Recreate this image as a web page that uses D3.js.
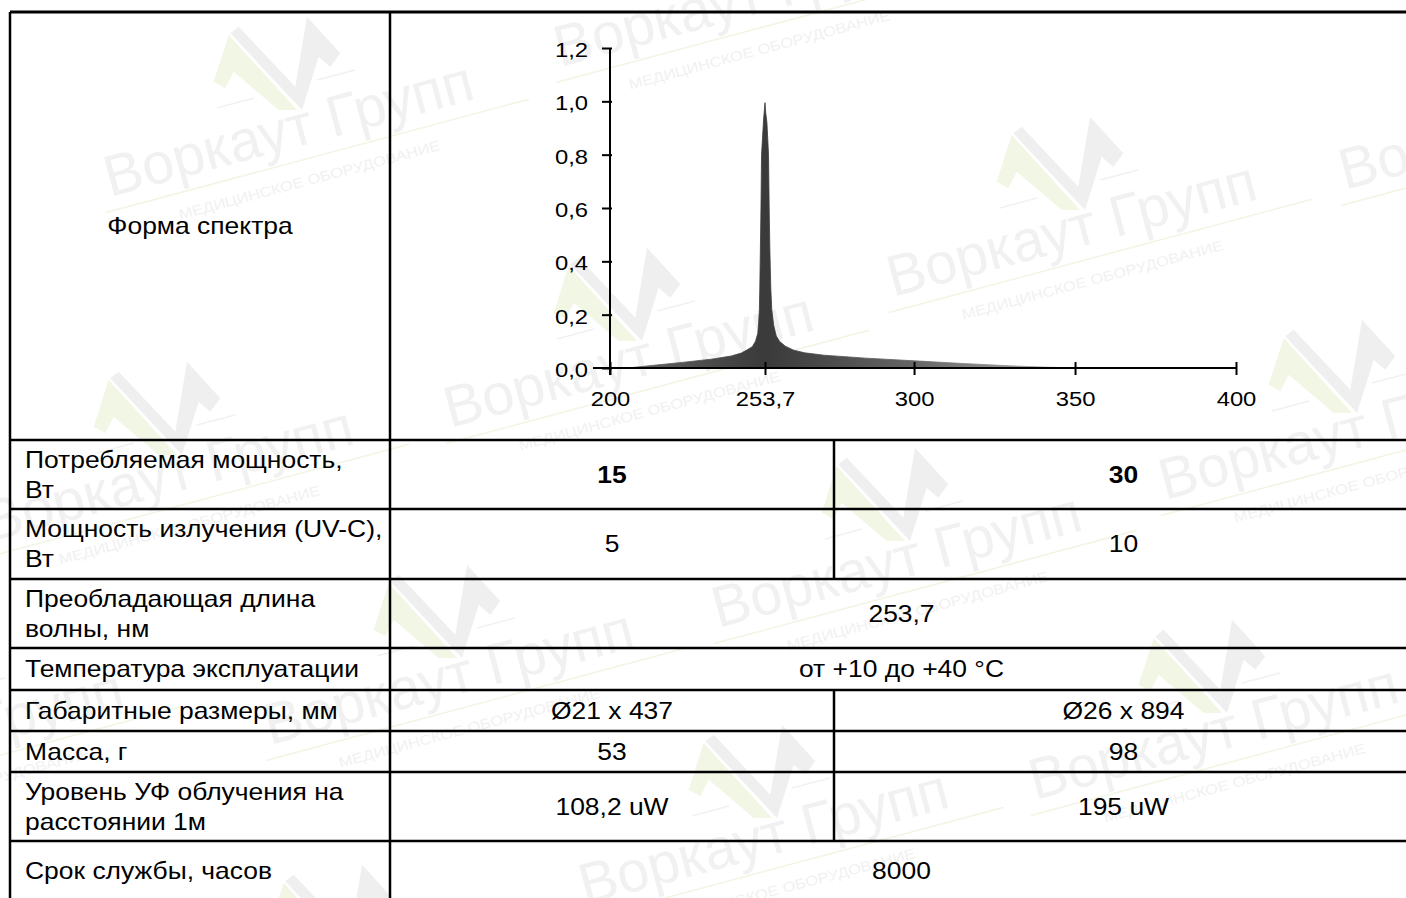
<!DOCTYPE html>
<html>
<head>
<meta charset="utf-8">
<script src="https://cdn.jsdelivr.net/npm/d3@7"></script>
<style>
  html, body { margin: 0; padding: 0; background: #fff; overflow: hidden; }
  svg { display: block; font-family: Arial, "Liberation Sans", sans-serif; }
</style>
</head>
<body>
<div id="chart"></div>
<script>
// spectrum (relative intensity vs wavelength, nm)
const wavelengths = [206, 215, 225, 235, 242, 245.5, 247.5, 249.3, 250.4, 251.2, 251.5, 251.75, 251.9, 252.1, 252.3, 252.5,
  253.2, 253.5, 253.7, 253.9, 254.3, 254.8, 255.0, 255.2, 255.5, 255.8, 256.4, 257.2, 258.2, 260, 262.6, 266, 272,
  285, 300, 315, 330, 342, 350];
const intensities = [0, 0.010, 0.021, 0.033, 0.045, 0.056, 0.068, 0.08, 0.1, 0.13, 0.17, 0.22, 0.3, 0.45, 0.6, 0.8,
  0.93, 0.97, 0.995, 0.96, 0.92, 0.8, 0.6, 0.45, 0.3, 0.22, 0.16, 0.12, 0.1, 0.082, 0.067, 0.057, 0.048,
  0.037, 0.027, 0.017, 0.008, 0.003, 0];
const xTicks = [200, 253.7, 300, 350, 400];
const yTicks = [0, 0.2, 0.4, 0.6, 0.8, 1.0, 1.2];

// table
const rowLabels = [
  ["Форма спектра"],
  ["Потребляемая мощность,", "Вт"],
  ["Мощность излучения (UV-C),", "Вт"],
  ["Преобладающая длина", "волны, нм"],
  ["Температура эксплуатации"],
  ["Габаритные размеры, мм"],
  ["Масса, г"],
  ["Уровень УФ облучения на", "расстоянии 1м"],
  ["Срок службы, часов"]
];
const lamp15 = [null, "15", "5", "253,7", "от +10 до +40 °C", "Ø21 x 437", "53", "108,2 uW", "8000"];
const lamp30 = [null, "30", "10", null, null, "Ø26 x 894", "98", "195 uW", null];
const boldRows = [1];

const W = 1406, H = 898;
const colX = [10, 390, 834, 1413];
const rowY = [12, 440, 509, 579, 648, 690, 731, 772, 841, 901];
const TX = 1.15; // text in the source is a bit wider than plain Arial

const svg = d3.select("#chart").append("svg")
  .attr("width", W).attr("height", H);
svg.append("rect").attr("width", W).attr("height", H).attr("fill", "#fff");

// watermark tiles
const marks = [[110, 197], [560, 67], [893, 297], [1345, 190], [450, 428], [-10, 542], [718, 628],
  [1165, 500], [270, 745], [1035, 800], [585, 905], [165, 1045], [-240, 805]];
const logoGreen = [[103.7, -115.3], [118.7, -162], [187, -87], [168.7, -87], [123.7, -125.3], [115.3, -108.7]];
const logoGray = [[120.3, -163.7], [128.7, -170.3], [185.3, -110.3], [197, -180.3], [230.3, -143.7],
  [220.3, -130.3], [208.7, -140.3], [192, -87]];

const wm = svg.append("g").selectAll("g").data(marks).join("g")
  .attr("transform", d => `translate(${d[0]},${d[1]})`);
wm.append("polygon").attr("points", logoGray.join(" ")).attr("fill", "#efefef");
wm.append("polygon").attr("points", logoGreen.join(" ")).attr("fill", "#f2f6e4");
wm.append("line").attr("x1", 107).attr("y1", -89).attr("x2", 144).attr("y2", -99)
  .attr("stroke", "#f1f1f1").attr("stroke-width", 1.5);
wm.append("line").attr("x1", 207).attr("y1", -117).attr("x2", 245).attr("y2", -127)
  .attr("stroke", "#f1f1f1").attr("stroke-width", 1.5);
const wr = wm.append("g").attr("transform", "rotate(-15)");
wr.append("text").attr("x", 0).attr("y", 0)
  .attr("font-size", 58).attr("textLength", 380).attr("lengthAdjust", "spacingAndGlyphs")
  .attr("fill", "#f1f1f1").text("Воркаут Групп");
wr.append("line").attr("x1", -8).attr("y1", 14).attr("x2", 430).attr("y2", 14)
  .attr("stroke", "#f1f5e4").attr("stroke-width", 1.5);
wr.append("text").attr("x", 62).attr("y", 40)
  .attr("font-size", 14).attr("textLength", 270).attr("lengthAdjust", "spacingAndGlyphs")
  .attr("fill", "#f1f1f1").text("МЕДИЦИНСКОЕ  ОБОРУДОВАНИЕ");

// table grid
const grid = svg.append("g").attr("stroke", "#000").attr("stroke-width", 2.5);
rowY.forEach(y => grid.append("line").attr("x1", colX[0]).attr("x2", colX[3]).attr("y1", y).attr("y2", y));
[colX[0], colX[1], colX[3]].forEach(x =>
  grid.append("line").attr("x1", x).attr("x2", x).attr("y1", rowY[0]).attr("y2", rowY[rowY.length - 1] + 20));
rowLabels.forEach((r, i) => {
  if (lamp30[i] !== null) {
    grid.append("line").attr("x1", colX[2]).attr("x2", colX[2]).attr("y1", rowY[i]).attr("y2", rowY[i + 1]);
  }
});
grid.select("line").attr("stroke-width", 3);

function label(g, x, y, str, anchor, bold) {
  g.append("g").attr("transform", `translate(${x},${y}) scale(${TX},1)`)
    .append("text").attr("text-anchor", anchor).attr("font-size", 23)
    .attr("font-weight", bold ? "bold" : "normal").attr("fill", "#000").text(str);
}

const cells = svg.append("g");
rowLabels.forEach((lines, i) => {
  const cy = (rowY[i] + rowY[i + 1]) / 2;
  if (i === 0) {
    label(cells, (colX[0] + colX[1]) / 2, cy + 8, lines[0], "middle");
  } else if (lines.length === 1) {
    label(cells, 25, cy + 8, lines[0], "start");
  } else {
    label(cells, 25, cy - 7, lines[0], "start");
    label(cells, 25, cy + 23, lines[1], "start");
  }
  const bold = boldRows.includes(i);
  if (lamp15[i] !== null && lamp30[i] !== null) {
    label(cells, (colX[1] + colX[2]) / 2, cy + 8, lamp15[i], "middle", bold);
    label(cells, (colX[2] + colX[3]) / 2, cy + 8, lamp30[i], "middle", bold);
  } else if (lamp15[i] !== null) {
    label(cells, (colX[1] + colX[3]) / 2, cy + 8, lamp15[i], "middle", bold);
  }
});

// spectrum chart
const x = d3.scaleLinear().domain([200, 253.7, 400]).range([610, 765, 1236]);
const y = d3.scaleLinear().domain([0, 1.2]).range([368, 48]);

const defs = svg.append("defs");
const grad = defs.append("linearGradient").attr("id", "specFill")
  .attr("gradientUnits", "userSpaceOnUse")
  .attr("x1", x(200)).attr("x2", x(400)).attr("y1", 0).attr("y2", 0);
[[200, "#707070"], [235, "#4a4a4a"], [253.7, "#3a3a3a"], [270, "#484848"], [300, "#666"], [350, "#b5b5b5"], [400, "#ddd"]]
  .forEach(s => grad.append("stop")
    .attr("offset", (x(s[0]) - x(200)) / (x(400) - x(200))).attr("stop-color", s[1]));

const spectrum = wavelengths.map((w, i) => ({ w, v: intensities[i] }));
const area = d3.area().x(d => x(d.w)).y0(y(0)).y1(d => y(d.v));
const chart = svg.append("g");
chart.append("path").datum(spectrum).attr("d", area)
  .attr("fill", "url(#specFill)").attr("stroke", "url(#specFill)").attr("stroke-width", 0.8);

const fmt = d => d >= 200 ? String(d).replace(".", ",") : d.toFixed(1).replace(".", ",");

const yAxis = chart.append("g").attr("transform", `translate(${x(200)},0)`)
  .call(d3.axisLeft(y).tickValues(yTicks).tickSize(8).tickPadding(14).tickFormat(fmt));
yAxis.selectAll(".tick line").attr("x1", 2).attr("stroke-width", 2);

const xAxis = chart.append("g").attr("transform", `translate(0,${y(0)})`)
  .call(d3.axisBottom(x).tickValues(xTicks).tickSize(7).tickPadding(17).tickFormat(fmt));
xAxis.selectAll(".tick line").attr("y1", -6).attr("stroke-width", 2);

[yAxis, xAxis].forEach(a => {
  a.select(".domain").remove();
  a.selectAll("text").attr("font-size", 20).attr("fill", "#000")
    .attr("font-family", "Arial, 'Liberation Sans', sans-serif")
    .each(function () {
      const t = d3.select(this);
      const tx = +t.attr("x") || 0;
      t.attr("transform", `translate(${tx},0) scale(1.19,1)`).attr("x", 0);
    });
});
yAxis.selectAll("text").attr("dy", "0.42em");

chart.append("line").attr("x1", x(200)).attr("x2", x(200)).attr("y1", y(1.2)).attr("y2", y(0) + 7)
  .attr("stroke", "#000").attr("stroke-width", 2);
chart.append("line").attr("x1", x(200) - 17).attr("x2", x(400)).attr("y1", y(0)).attr("y2", y(0))
  .attr("stroke", "#000").attr("stroke-width", 2);
</script>
</body>
</html>
